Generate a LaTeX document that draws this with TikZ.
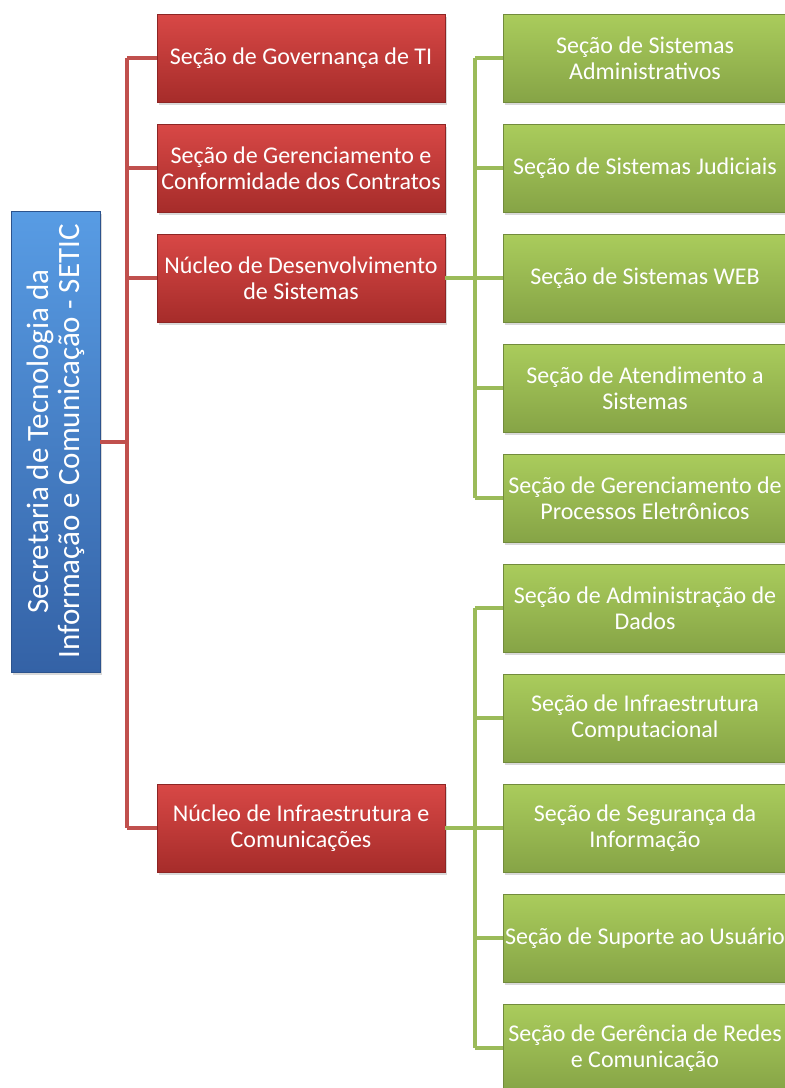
\documentclass[tikz,border=0pt]{standalone}
\usepackage{fontspec}
\setmainfont{Carlito}
\usetikzlibrary{shadows}
\definecolor{pRed}{RGB}{192,80,77}
\definecolor{pRedTop}{RGB}{216,72,70}
\definecolor{pRedBot}{RGB}{166,44,42}
\definecolor{pGreen}{RGB}{155,187,89}
\definecolor{pGreenTop}{RGB}{170,204,92}
\definecolor{pGreenBot}{RGB}{134,164,70}
\definecolor{pBlueTop}{RGB}{88,156,228}
\definecolor{pBlueBot}{RGB}{52,98,166}
\tikzset{
    box/.style={rectangle, text=white, align=center, inner sep=2pt,
        font=\fontsize{24}{26}\selectfont,
        drop shadow={shadow xshift=1.5pt, shadow yshift=-2.5pt, opacity=0.3}},
    redbox/.style={box, minimum width=288, minimum height=88,
        top color=pRedTop, bottom color=pRedBot, draw=pRedBot!85!black, line width=0.6pt},
    greenbox/.style={box, minimum width=284, minimum height=88,
        top color=pGreenTop, bottom color=pGreenBot, draw=pGreenBot!85!black, line width=0.6pt},
    bluebox/.style={box, rotate=90, minimum width=461, minimum height=89,
        font=\fontsize{31}{31}\selectfont,
        top color=pBlueTop, bottom color=pBlueBot, draw=pBlueBot!85!black, line width=0.6pt},
    redline/.style={line width=4pt, pRed},
    greenline/.style={line width=4pt, pGreen}
}

\begin{document}
\begin{tikzpicture}[x=1pt,y=-1pt]
\useasboundingbox (0,0) rectangle (785,1088);
\clip (0,0) rectangle (785,1088);
% bus lines
\coordinate (rbus) at (127,0);
\coordinate (gbus) at (475,0);
% boxes
\node[bluebox] (setic) at (55.5,441.5) {Secretaria de Tecnologia da\\Informação e Comunicação - SETIC};
\node[redbox] (gov) at (301, 58) {Seção de Governança de TI};
\node[redbox] (ger) at (301,168) {Seção de Gerenciamento e\\Conformidade dos Contratos};
\node[redbox] (nds) at (301,278) {Núcleo de Desenvolvimento\\de Sistemas};
\node[redbox] (nic) at (301,828) {Núcleo de Infraestrutura e\\Comunicações};
\node[greenbox] (sadm) at (645, 58) {Seção de Sistemas\\Administrativos};
\node[greenbox] (sjud) at (645, 168) {Seção de Sistemas Judiciais};
\node[greenbox] (sweb) at (645, 278) {Seção de Sistemas WEB};
\node[greenbox] (sate) at (645, 388) {Seção de Atendimento a\\Sistemas};
\node[greenbox] (sgpe) at (645, 498) {Seção de Gerenciamento de\\Processos Eletrônicos};
\node[greenbox] (sdad) at (645, 608) {Seção de Administração de\\Dados};
\node[greenbox] (sinf) at (645, 718) {Seção de Infraestrutura\\Computacional};
\node[greenbox] (sseg) at (645, 828) {Seção de Segurança da\\Informação};
\node[greenbox] (ssup) at (645, 938) {Seção de Suporte ao Usuário};
\node[greenbox] (sred) at (645,1048) {Seção de Gerência de Redes\\e Comunicação};
% red connectors
\draw[redline] (setic.south) -- (setic.south -| rbus);
\draw[redline] (gov.west -| rbus) -- (nic.west -| rbus);
\foreach \n in {gov,ger,nds,nic}
    \draw[redline] (\n.west -| rbus) -- (\n.west);
% green connectors
\draw[greenline] (nds.east) -- (nds.east -| gbus);
\draw[greenline] (sadm.west -| gbus) -- (sgpe.west -| gbus);
\foreach \n in {sadm,sjud,sweb,sate,sgpe}
    \draw[greenline] (\n.west -| gbus) -- (\n.west);
\draw[greenline] (nic.east) -- (nic.east -| gbus);
\draw[greenline] (sdad.west -| gbus) -- (sred.west -| gbus);
\foreach \n in {sdad,sinf,sseg,ssup,sred}
    \draw[greenline] (\n.west -| gbus) -- (\n.west);
\end{tikzpicture}
\end{document}
